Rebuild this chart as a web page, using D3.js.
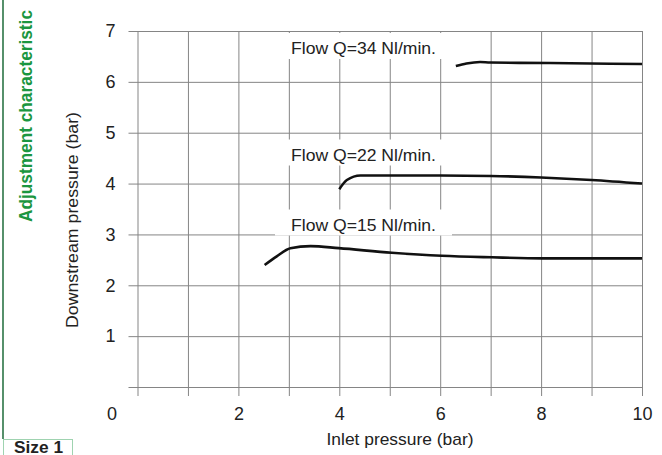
<!DOCTYPE html>
<html><head><meta charset="utf-8">
<script src="https://cdn.jsdelivr.net/npm/d3@7"></script>
<style>
body{margin:0;background:#fff;}
svg{display:block;font-family:"Liberation Sans",Arial,Helvetica,sans-serif;}
</style></head>
<body>
<svg id="chart" width="662" height="455"></svg>
<script>
// ---- data ----
const xTicks = [0,1,2,3,4,5,6,7,8,9,10];
const xTickLabels = ["", "", "2", "", "4", "", "6", "", "8", "", "10"];
const yTicks = [0,1,2,3,4,5,6,7];
const yTickLabels = ["", "1", "2", "3", "4", "5", "6", "7"];
const seriesNames = ["Flow Q=34 Nl/min.", "Flow Q=22 Nl/min.", "Flow Q=15 Nl/min."];
const q34x = [6.31, 6.52, 6.79, 6.99, 8.18, 10.0];
const q34y = [6.31, 6.36, 6.39, 6.38, 6.37, 6.35];
const q22x = [4.0, 4.15, 4.42, 6.0, 7.0, 8.0, 9.0, 10.0];
const q22y = [3.89, 4.07, 4.16, 4.16, 4.15, 4.12, 4.07, 4.0];
const q15x = [2.52, 2.76, 3.03, 3.43, 3.99, 5.04, 6.03, 7.02, 8.02, 9.03, 10.0];
const q15y = [2.40, 2.57, 2.73, 2.77, 2.73, 2.64, 2.58, 2.55, 2.53, 2.53, 2.53];

// ---- layout ----
const svg = d3.select("#chart");
const x = d3.scaleLinear().domain([0,10]).range([137.5, 642]);
const y = d3.scaleLinear().domain([0,7]).range([387, 31]);
const gridColor = "#858585";
const leftExt = 128.5, bottomExt = 396;
const font = "Liberation Sans, Arial, sans-serif";

// horizontal grid via axisLeft
const gy = svg.append("g").attr("transform", `translate(${leftExt},0)`)
  .call(d3.axisLeft(y).tickValues(yTicks).tickSize(-(x(10) - leftExt)).tickPadding(13)
        .tickFormat((d,i) => yTickLabels[i]));
gy.select(".domain").remove();
gy.attr("font-size", null).attr("font-family", null);
gy.selectAll("line").attr("stroke", gridColor).attr("stroke-width", 1);
gy.selectAll("text").style("font-size", "18px").style("font-family", font).attr("fill", "#222");

// vertical grid via axisBottom
const gx = svg.append("g").attr("transform", `translate(0,${bottomExt})`)
  .call(d3.axisBottom(x).tickValues(xTicks).tickSize(-(bottomExt - y(7))).tickPadding(10.5)
        .tickFormat((d,i) => xTickLabels[i]));
gx.select(".domain").remove();
gx.attr("font-size", null).attr("font-family", null);
gx.selectAll("line").attr("stroke", gridColor).attr("stroke-width", 1);
gx.selectAll("text").style("font-size", "18px").style("font-family", font).attr("fill", "#222")
  .attr("y", 24).attr("dy", 0);

// corner "0"
svg.append("text").attr("x", 112).attr("y", 420).attr("text-anchor", "middle")
  .style("font-size", "18px").attr("fill", "#222").text("0");

// label backgrounds and texts
const series = [[q34x,q34y],[q22x,q22y],[q15x,q15y]];
const labelBase = [54, 160.5, 230.5];
labelBase.forEach((b,i) => {
  svg.append("rect").attr("x", 275).attr("y", b - 21).attr("width", 177).attr("height", 26).attr("fill", "#fff");
  svg.append("text").attr("x", 291).attr("y", b).style("font-size", "17px").attr("fill", "#222")
    .attr("textLength", 145).attr("lengthAdjust", "spacingAndGlyphs").text(seriesNames[i]);
});

// curves
const line = d3.line().x(d => x(d[0])).y(d => y(d[1])).curve(d3.curveMonotoneX);
series.forEach(([xs, ys]) => {
  svg.append("path").datum(xs.map((v,i) => [v, ys[i]]))
    .attr("d", line).attr("fill", "none").attr("stroke", "#111").attr("stroke-width", 2.6)
    .attr("stroke-linecap", "butt");
});

// axis titles
svg.append("text").attr("transform", "translate(78,220) rotate(-90)").attr("text-anchor", "middle")
  .style("font-size", "17px").attr("fill", "#222").attr("textLength", 216).attr("lengthAdjust", "spacingAndGlyphs")
  .text("Downstream pressure (bar)");
svg.append("text").attr("x", 400).attr("y", 445).attr("text-anchor", "middle")
  .style("font-size", "17px").attr("fill", "#222").attr("textLength", 147).attr("lengthAdjust", "spacingAndGlyphs")
  .text("Inlet pressure (bar)");

// green side title and frame
svg.append("text").attr("transform", "translate(32,116) rotate(-90)").attr("text-anchor", "middle")
  .style("font-size", "18px").attr("font-weight", "bold").attr("fill", "#1b9640")
  .attr("textLength", 212).attr("lengthAdjust", "spacingAndGlyphs")
  .text("Adjustment characteristic");
svg.append("line").attr("x1", 3).attr("x2", 3).attr("y1", 0).attr("y2", 439)
  .attr("stroke", "#1e6b3a").attr("stroke-width", 1.5);
svg.append("rect").attr("x", 3.5).attr("y", 439.5).attr("width", 69).attr("height", 20)
  .attr("fill", "#fff").attr("stroke", "#9fd3b0").attr("stroke-width", 1);
svg.append("text").attr("x", 14).attr("y", 453).style("font-size", "16px").attr("font-weight", "bold")
  .attr("fill", "#222").attr("textLength", 49).attr("lengthAdjust", "spacingAndGlyphs").text("Size 1");
</script>
</body></html>
